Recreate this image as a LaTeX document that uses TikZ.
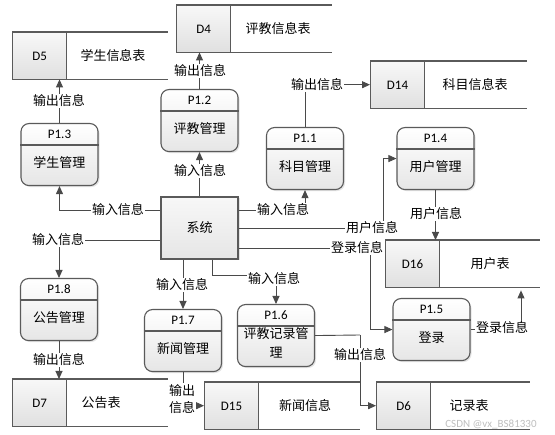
\documentclass[tikz,border=0pt]{standalone}
\usepackage{fontspec}
\setmainfont{Carlito}
\newfontfamily\cjk{Noto Sans CJK SC}
\usetikzlibrary{arrows.meta,shadows,calc}
\definecolor{edgec}{HTML}{5A5A5A}
\definecolor{linec}{HTML}{4A4A4A}
\definecolor{shadeA}{HTML}{E6E6E6}
\definecolor{shadeB}{HTML}{E0E0E0}
\tikzset{
  procbox/.style={draw=edgec, line width=1.1pt, rounded corners=8pt,
    minimum width=77pt, minimum height=62pt, inner sep=0pt,
    top color=white, bottom color=shadeA,
    drop shadow={shadow xshift=1.5pt, shadow yshift=-1.5pt, fill=black!30, opacity=0.35}},
  sysbox/.style={draw=edgec, line width=1.1pt, minimum width=77pt, minimum height=62pt,
    inner sep=0pt, top color=white!97!black, bottom color=shadeA,
    drop shadow={shadow xshift=1.5pt, shadow yshift=-1.5pt, fill=black!30, opacity=0.35}},
  divline/.style={draw=edgec, line width=1.1pt},
  storeid/.style={draw=edgec, line width=1.1pt, minimum width=54pt, minimum height=47pt,
    inner sep=0pt, top color=white!97!black, bottom color=shadeB, font=\fontsize{13}{15}\selectfont},
  storeall/.style={inner sep=0pt, minimum height=47pt},
  storeline/.style={draw=edgec, line width=1.1pt},
  idtext/.style={font=\fontsize{13}{15}\selectfont, inner sep=0pt},
  cntext/.style={font=\cjk\fontsize{13}{19}\selectfont, inner sep=0pt, align=center},
  flow/.style={draw=linec, line width=0.9pt, -{Triangle[length=8pt,width=7pt]}},
  plain/.style={draw=linec, line width=0.9pt},
  lbl/.style={font=\cjk\fontsize{13}{17}\selectfont, fill=white, inner sep=1pt, align=center},
}
\newcommand\procnode[5]{%
  \node[procbox, anchor=north] (#1) at (#2,#3) {};
  \draw[divline] ($(#1.north west)+(0,22)$) -- ($(#1.north east)+(0,22)$);
  \node[idtext] (#1h) at ($(#1.north)+(0,11)$) {#4};
  \node[cntext] (#1t) at ($(#1.north)+(0,40)$) {#5};
}
\newcommand\storenode[7]{%
  \node[storeall, anchor=north west, minimum width={#4-#2}] (#1) at (#2,#3) {};
  \draw[storeline] (#1.north west) -- (#1.north east);
  \draw[storeline] (#1.south west) -- (#1.south east);
  \node[storeid, anchor=north west] (#1id) at (#2,#3) {#5};
  \node[cntext] (#1lb) at (#7,#3+23.5) {#6};
}
\begin{document}
\begin{tikzpicture}[x=1pt,y=-1pt]
\useasboundingbox (0,0) rectangle (555,435);
\fill[white] (0,0) rectangle (555,435);

% data stores
\storenode{dfive}{12}{32}{168}{D5}{学生信息表}{113}
\storenode{dfour}{176}{5}{332}{D4}{评教信息表}{278}
\storenode{dfourteen}{370}{61}{527}{D14}{科目信息表}{475}
\storenode{dsixteen}{385}{240}{540}{D16}{用户表}{490}
\storenode{dseven}{12}{379}{168}{D7}{公告表}{101}
\storenode{dfifteen}{204}{382}{360}{D15}{新闻信息}{305}
\storenode{dsix}{376}{382}{530}{D6}{记录表}{469}

% processes
\procnode{pthree}{59.5}{123}{P1.3}{学生管理}
\procnode{ptwo}{199.5}{89}{P1.2}{评教管理}
\procnode{pone}{305}{127}{P1.1}{科目管理}
\procnode{pfour}{435.5}{127}{P1.4}{用户管理}
\procnode{peight}{59}{278}{P1.8}{公告管理}
\procnode{pseven}{183}{309}{P1.7}{新闻管理}
\node[procbox, anchor=north] (psix) at (276,304) {};
\draw[divline] ($(psix.north west)+(0,22)$) -- ($(psix.north east)+(0,22)$);
\node[idtext] (psixh) at ($(psix.north)+(0,11)$) {P1.6};
\node[cntext] (psixt) at ($(psix.north)+(0,38.5)$) {评教记录管\\理};
\procnode{pfive}{431.5}{298}{P1.5}{登录}

% system
\node[sysbox] (sys) at (199.5,228) {};
\node[cntext] (syst) at (sys.center) {系统};

% helper coordinates
\coordinate (cuser) at (383,228);
\coordinate (clogin) at (370,248);
\coordinate (cout) at (360,335);

% connectors
\draw[flow] ([yshift=18pt]sys.west) -| (pthree.south);
\draw[flow] (sys.north) -- (ptwo.south);
\draw[flow] (pthree.north) -- (pthree.north |- dfive.south);
\draw[flow] (ptwo.north) -- (ptwo.north |- dfour.south);
\draw[flow] ([yshift=18pt]sys.east) -| (pone.south);
\draw[flow] (pone.north) |- (dfourteen.west);
\draw[flow] (sys.east) -- (cuser) |- (pfour.west);
\draw[flow] (pfour.south) -- (pfour.south |- dsixteen.north);
\draw[flow] ([yshift=-20pt]sys.east) -- (clogin) |- (pfive.west);
\draw[flow] (pfive.east) -| ($(dsixteen.south west)+(136,3)$);
\draw[flow] ([yshift=-12pt]sys.west) -| (peight.north);
\draw[flow] (peight.south) -- (peight.south |- dseven.north);
\draw[flow] (sys.south -| pseven.north) -- (pseven.north);
\draw[flow] ([xshift=12.5pt]sys.south) |- ($(psix.north)+(0,-29)$) -- (psix.north);
\draw[flow] (pseven.south) |- (dfifteen.west);
\draw[plain] (psix.east) -- (cout);
\draw[flow] (cout) |- (dsix.west);

% labels
\node[lbl] (l1) at (118,210) {输入信息};
\node[lbl] (l2) at (200,171) {输入信息};
\node[lbl] (l3) at (59,101) {输出信息};
\node[lbl] (l4) at (200,71) {输出信息};
\node[lbl] (l5) at (283,210) {输入信息};
\node[lbl] (l6) at (317,85) {输出信息};
\node[lbl] (l7) at (372,228) {用户信息};
\node[lbl] (l8) at (436,214) {用户信息};
\node[lbl] (l9) at (357,248) {登录信息};
\node[lbl] (l10) at (502,328) {登录信息};
\node[lbl] (l11) at (58,240) {输入信息};
\node[lbl] (l12) at (59,360) {输出信息};
\node[lbl] (l13) at (182,285) {输入信息};
\node[lbl] (l14) at (274,279) {输入信息};
\node[lbl] (l15) at (182,399) {输出\\信息};
\node[lbl] (l16) at (360,355) {输出信息};

% watermark
\node[font=\fontsize{11}{13}\selectfont, text=black!25, inner sep=0pt] (wm) at (491,424) {CSDN @vx\_BS81330};
\end{tikzpicture}
\end{document}
